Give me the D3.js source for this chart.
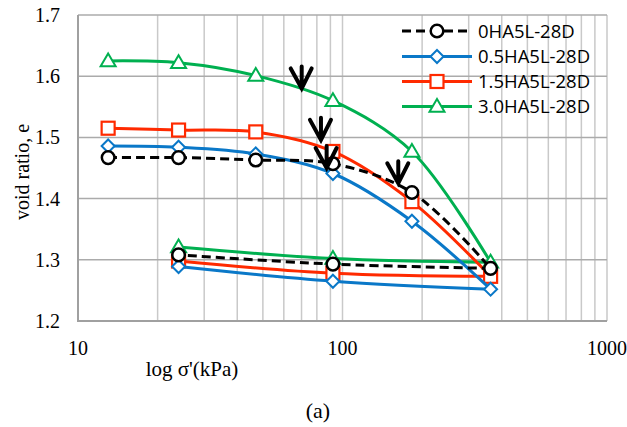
<!DOCTYPE html>
<html>
<head>
<meta charset="utf-8">
<script src="https://cdn.jsdelivr.net/npm/d3@7"></script>
<style>
  html, body { margin: 0; padding: 0; background: #fff; }
  svg { display: block; }
</style>
</head>
<body>
<svg id="chart" width="627" height="427"></svg>
<script>
// ---- data ----
const pressuresLoad = [13, 24, 47, 92, 183, 363];
const pressuresUnload = [363, 92, 24];
const seriesNames = ["0HA5L-28D", "0.5HA5L-28D", "1.5HA5L-28D", "3.0HA5L-28D"];
const load0HA = [1.467, 1.467, 1.463, 1.457, 1.410, 1.286];
const unload0HA = [1.286, 1.293, 1.308];
const load05HA = [1.486, 1.484, 1.473, 1.441, 1.363, 1.252];
const unload05HA = [1.252, 1.265, 1.289];
const load15HA = [1.515, 1.512, 1.509, 1.477, 1.395, 1.273];
const unload15HA = [1.273, 1.278, 1.298];
const load30HA = [1.625, 1.622, 1.601, 1.560, 1.477, 1.296];
const unload30HA = [1.296, 1.302, 1.321];
const arrowPressures = [70.1, 82.9, 87.1, 162.5];
const arrowVoids = [1.580, 1.496, 1.450, 1.425];
const xTicks = [10, 100, 1000];
const yTicks = [1.2, 1.3, 1.4, 1.5, 1.6, 1.7];

// ---- layout ----
const svg = d3.select("#chart");
const L = 78, R = 607, T = 15, B = 321;
const x = d3.scaleLog().domain([10, 1000]).range([L, R]);
const y = d3.scaleLinear().domain([1.2, 1.7]).range([B, T]);

const serif = "'Liberation Serif', 'Times New Roman', serif";
const sans = "'Open Sans', 'Noto Sans', sans-serif";

// grid: vertical minor/major
const vLines = [];
for (let d = 10; d < 1000; d *= 10) for (let k = 1; k < 10; k++) vLines.push(d * k);
vLines.push(1000);
svg.append("g").selectAll("line").data(vLines).join("line")
  .attr("x1", d => x(d)).attr("x2", d => x(d))
  .attr("y1", T).attr("y2", B)
  .attr("stroke", "#c9c9c9").attr("stroke-width", 1.5);
svg.append("g").selectAll("line").data(yTicks).join("line")
  .attr("x1", L).attr("x2", R)
  .attr("y1", d => y(d)).attr("y2", d => y(d))
  .attr("stroke", "#ababab").attr("stroke-width", 1.5);
// axes lines
svg.append("line").attr("x1", L).attr("x2", L).attr("y1", T).attr("y2", B)
  .attr("stroke", "#a0a0a0").attr("stroke-width", 2);
svg.append("line").attr("x1", L - 1).attr("x2", R).attr("y1", B).attr("y2", B)
  .attr("stroke", "#a0a0a0").attr("stroke-width", 2);

// tick labels
svg.append("g").selectAll("text").data(yTicks).join("text")
  .attr("x", 60).attr("y", d => y(d) + 7)
  .attr("text-anchor", "end")
  .attr("font-family", serif).attr("font-size", "20px").attr("fill", "#000")
  .text(d => d.toFixed(1));
svg.append("g").selectAll("text").data(xTicks).join("text")
  .attr("x", d => x(d)).attr("y", 355)
  .attr("text-anchor", "middle")
  .attr("font-family", serif).attr("font-size", "20px").attr("fill", "#000")
  .text(d => d);

// axis titles
svg.append("text").attr("transform", "translate(29,172) rotate(-90)")
  .attr("text-anchor", "middle").attr("font-family", serif).attr("font-size", "20px")
  .text("void ratio, e");
svg.append("text").attr("x", 192).attr("y", 376)
  .attr("text-anchor", "middle").attr("font-family", serif).attr("font-size", "21px")
  .text("log σ'(kPa)");
svg.append("text").attr("x", 318).attr("y", 418)
  .attr("text-anchor", "middle").attr("font-family", serif).attr("font-size", "22px")
  .text("(a)");

// series
const series = [
  { name: seriesNames[3], load: load30HA, unload: unload30HA, color: "#00b050", dash: null, marker: "tri" },
  { name: seriesNames[2], load: load15HA, unload: unload15HA, color: "#ff2a00", dash: null, marker: "sq" },
  { name: seriesNames[1], load: load05HA, unload: unload05HA, color: "#0a78c8", dash: null, marker: "dia" },
  { name: seriesNames[0], load: load0HA, unload: unload0HA, color: "#000000", dash: "9,5", marker: "circ" },
];

const line = d3.line().x(d => x(d[0])).y(d => y(d[1])).curve(d3.curveCatmullRom.alpha(0.5));

function drawMarker(g, type, cx, cy, color) {
  if (type === "circ") {
    g.append("circle").attr("cx", cx).attr("cy", cy).attr("r", 6.3)
      .attr("fill", "#fff").attr("stroke", color).attr("stroke-width", 2.5);
  } else if (type === "sq") {
    g.append("rect").attr("x", cx - 6.5).attr("y", cy - 6.5).attr("width", 13).attr("height", 13)
      .attr("fill", "#fff").attr("stroke", color).attr("stroke-width", 2.2);
  } else if (type === "dia") {
    const s = 6.5;
    g.append("path").attr("d", `M${cx},${cy - s}L${cx + s},${cy}L${cx},${cy + s}L${cx - s},${cy}Z`)
      .attr("fill", "#fff").attr("stroke", color).attr("stroke-width", 2);
  } else if (type === "tri") {
    const s = 7.5;
    g.append("path").attr("d", `M${cx},${cy - s}L${cx + s},${cy + s * 0.7}L${cx - s},${cy + s * 0.7}Z`)
      .attr("fill", "#fff").attr("stroke", color).attr("stroke-width", 2);
  }
}

series.forEach(s => {
  const g = svg.append("g");
  const lp = pressuresLoad.map((p, i) => [p, s.load[i]]);
  const up = pressuresUnload.map((p, i) => [p, s.unload[i]]);
  [lp, up].forEach(pts => {
    g.append("path").attr("d", line(pts)).attr("fill", "none")
      .attr("stroke", s.color).attr("stroke-width", 3)
      .attr("stroke-dasharray", s.dash);
  });
  lp.concat(up.slice(1)).forEach(d => drawMarker(g, s.marker, x(d[0]), y(d[1]), s.color));
});

// arrows
const ag = svg.append("g");
arrowPressures.forEach((p, i) => {
  const tx = x(p), ty = y(arrowVoids[i]);
  ag.append("path")
    .attr("d", `M${tx - 11},${ty - 20}L${tx},${ty}L${tx + 10},${ty - 20}M${tx},${ty - 22}L${tx},${ty}`)
    .attr("fill", "none").attr("stroke", "#000").attr("stroke-width", 4)
    .attr("stroke-linejoin", "miter").attr("stroke-linecap", "round");
});

// legend
const legendOrder = [series[3], series[2], series[1], series[0]];
const lg = svg.append("g");
const rowY = [31, 56.5, 81.5, 106.5];
legendOrder.forEach((s, i) => {
  const yy = rowY[i];
  lg.append("line").attr("x1", 402).attr("x2", 472).attr("y1", yy).attr("y2", yy)
    .attr("stroke", s.color).attr("stroke-width", 3).attr("stroke-dasharray", s.dash);
  drawMarker(lg, s.marker, 437, yy, s.color);
  lg.append("text").attr("x", 478).attr("y", yy + 6.5)
    .attr("font-family", sans).attr("font-size", "18.5px").attr("fill", "#000")
    .text(s.name);
});
</script>
</body>
</html>
